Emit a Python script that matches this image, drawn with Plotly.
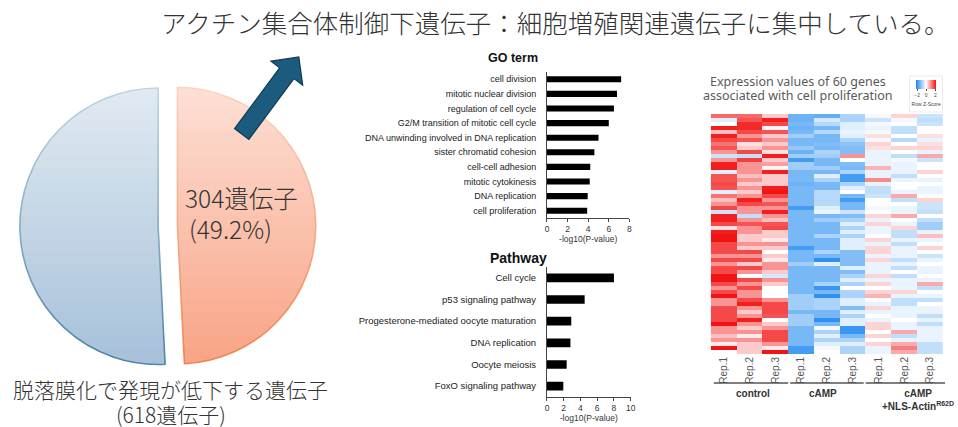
import plotly.graph_objects as go

W, H = 958, 427

# ---------------- data ----------------
pie_labels = ["アクチン集合体制御下遺伝子", "その他"]
pie_values = [304, 314]

go_terms = ["cell division", "mitotic nuclear division", "regulation of cell cycle",
            "G2/M transition of mitotic cell cycle",
            "DNA unwinding involved in DNA replication", "sister chromatid cohesion",
            "cell-cell adhesion", "mitotic cytokinesis", "DNA replication",
            "cell proliferation"]
go_values = [7.2, 6.8, 6.5, 6.0, 5.0, 4.6, 4.2, 4.15, 3.95, 3.9]

pathway_terms = ["Cell cycle", "p53 signaling pathway",
                 "Progesterone-mediated oocyte maturation", "DNA replication",
                 "Oocyte meiosis", "FoxO signaling pathway"]
pathway_values = [8.0, 4.5, 2.9, 2.8, 2.35, 1.95]

hm_col_labels = ["Rep.1", "Rep.2", "Rep.3"] * 3
hm_groups = ["control", "cAMP", "cAMP<br>+NLS-Actin<sup>R62D</sup>"]

ctrl_rep1 = [1.4, -0.3, 0.0, 2.1, 0.6, 2.1, 1.7, 1.3, 1.6, 1.0,
             -0.5, 1.0, 2.1, 2.1, -0.3, 1.6, 1.6, 1.7, 1.6, -0.3,
             1.3, 0.6, 1.0, 1.7, -0.5, 2.1, 2.1, 1.7, 0.3, 2.1,
             2.2, 2.2, 1.7, 1.7, 1.7, 1.0, 1.7, 1.0, 1.7, 1.7,
             2.2, 2.2, 1.7, 1.0, 1.7, 2.2, 1.0, 1.0, 1.7, 1.7,
             1.7, 1.7, 2.2, 1.0, 1.0, 0.6, 1.0, 0.2, 2.2, 0.0]
ctrl_rep2 = [1.4, 1.6, 2.0, 2.0, 1.7, 1.0, 1.6, 0.3, 0.5, 1.7,
             -0.6, 1.8, 1.0, 1.0, 1.0, 0.6, 1.0, 0.5, 1.0, 0.5,
             1.0, 2.1, 1.7, 1.0, 1.0, -0.6, 1.0, 1.6, 1.0, 1.0,
             0.5, 0.5, 1.0, 0.5, 1.7, 1.0, 1.7, 0.5, 1.7, 1.0,
             0.0, 1.7, 1.0, 1.7, 1.0, 1.0, 1.7, 2.1, 1.0, 0.5,
             1.0, 2.1, 1.0, 0.5, 1.0, 0.2, 1.0, 0.5, 0.5, 0.5]
ctrl_rep3 = [0.5, 2.1, 1.7, 0.1, 1.6, 0.5, 1.0, 0.5, 1.0, 0.3,
             2.1, 0.5, 0.9, 0.1, 2.1, 0.5, 0.5, 0.5, 2.1, 2.2,
             1.7, 1.0, 1.6, 1.0, 2.1, 1.0, 0.6, 1.6, 1.7, 0.5,
             0.5, 0.2, 1.0, 0.5, 0.0, 0.5, 0.2, 1.0, 1.0, 0.5,
             -0.4, 1.0, 0.5, 0.0, 0.0, 0.0, 1.0, 1.7, 1.7, 1.7,
             1.6, 0.0, 0.5, 1.0, 1.7, 1.7, 1.7, 1.0, 0.2, 2.2]
camp_rep1 = [-1.4, -1.4, -1.3, -1.4, -1.3, -0.9, -1.3, -1.3, -1.0, -1.4,
             -0.9, -1.8, -0.9, -0.9, -1.3, -1.3, -1.3, -1.4, -1.3, -1.3,
             -1.3, -1.3, -1.3, -1.8, -1.3, -1.3, -1.3, -1.3, -1.3, -1.3,
             -1.3, -1.3, -1.3, -1.8, -1.3, -1.3, -1.3, -0.9, -1.3, -1.3,
             -1.3, -1.3, -1.3, -1.3, -1.3, -0.9, -0.9, -0.9, -0.9, -1.3,
             -0.9, -0.9, -0.9, -1.3, -1.3, -1.3, -1.3, -1.3, -1.8, -1.8]
camp_rep2 = [-1.5, -0.4, -0.7, -1.3, -0.7, -1.3, -1.3, -1.2, -1.3, -0.8,
             -0.9, -1.3, -1.3, -0.9, -1.3, -0.3, -0.8, -1.3, -1.3, -0.7,
             -0.7, -0.7, -0.7, -0.3, -0.2, -1.3, -0.9, -1.3, -1.3, -1.3,
             -0.8, -1.3, -1.3, -1.3, -0.8, -1.3, -2.0, -0.3, -1.3, -1.3,
             -1.3, -1.3, -0.8, -1.9, -1.3, -2.0, -0.8, -0.8, -0.8, -1.3,
             -1.3, -2.0, -1.3, -0.1, -0.8, -0.3, -0.8, -0.3, -0.1, 0.0]
camp_rep3 = [-0.8, -0.8, -0.3, -0.3, -0.2, -0.3, -0.8, -1.1, -1.2, -1.2,
             1.0, 0.0, -1.2, -1.3, -0.8, -1.8, -1.8, -0.8, -0.3, 0.0,
             -1.3, -1.8, -1.3, -1.3, -0.5, -1.2, -0.8, -0.3, -0.8, -0.3,
             -0.8, -0.3, -0.3, -0.3, -1.2, -1.2, -1.2, -1.2, -0.3, -1.2,
             -0.8, -0.3, -0.8, 0.0, -0.8, -0.8, -0.3, -0.3, -1.2, -0.3,
             -0.8, -0.3, -0.3, -1.9, -1.9, -1.3, -0.8, -0.3, -0.8, -0.8]
nls_rep1 = [-0.1, -0.5, -0.1, -0.2, -0.1, 0.3, -0.1, 0.4, 0.3, -0.2,
            -0.2, -0.2, -0.2, 0.7, -0.2, -0.2, 1.1, -0.2, -0.6, -0.6,
            -0.5, 0.0, 0.0, -0.1, 0.0, 0.4, -0.2, 0.4, -0.2, -0.2,
            0.0, 0.4, -0.2, 0.4, 0.4, -0.2, 0.4, -0.2, -0.2, -0.2,
            0.4, -0.2, 0.4, 0.0, 0.4, 0.7, 0.0, -0.2, 0.4, -0.2,
            0.0, -0.2, 0.4, 0.4, 0.0, 0.4, 0.0, 0.4, -0.2, -0.2]
nls_rep2 = [0.4, -0.1, 0.0, -0.6, -0.6, 0.0, -0.7, 0.0, 0.4, 0.0,
            -0.6, -0.1, -0.2, -0.2, -0.2, -0.6, -0.2, 0.0, 0.0, -0.2,
            0.8, -0.6, 0.0, -0.2, -0.2, 0.8, 0.0, -0.2, 0.4, -0.6,
            -0.6, -0.2, -0.6, -0.2, -0.2, -0.2, -0.6, -0.2, -0.6, 0.0,
            -0.6, -0.2, -0.2, -0.2, 0.4, -0.2, -0.6, -0.6, -0.2, -0.2,
            -0.2, 0.0, -0.2, -0.2, 0.8, -0.6, -0.2, 0.8, 1.2, 0.8]
nls_rep3 = [-0.5, -0.6, -0.5, 0.0, 0.0, 0.3, -0.2, 0.3, 0.4, -0.2,
            0.8, -0.5, 0.0, 0.0, 0.4, 0.0, -0.2, 0.0, -0.2, -0.2,
            0.0, 0.4, -0.5, -0.5, -0.6, 0.0, -0.6, -0.9, -0.9, -0.2,
            0.6, -0.2, 0.0, 0.4, 0.0, -0.5, -0.2, 0.0, -0.2, -0.2,
            0.0, -0.2, 0.8, -0.6, 0.0, -0.2, -0.6, 0.0, -0.2, -0.2,
            -0.6, -0.2, -0.6, -0.2, -0.2, -0.2, -0.2, -0.6, -0.6, -0.6]

hm_columns = [ctrl_rep1, ctrl_rep2, ctrl_rep3, camp_rep1, camp_rep2, camp_rep3,
              nls_rep1, nls_rep2, nls_rep3]

# ---------------- helpers ----------------
def px(x):
    return x / W


def py(y):
    return 1 - y / H


JP = "Noto Sans CJK JP"
AR = "Liberation Sans, Arial, sans-serif"

fig = go.Figure()

# ---------------- pie ----------------
fig.add_trace(go.Pie(
    values=pie_values, labels=pie_labels, sort=False, direction="clockwise",
    rotation=0, pull=[0.07, 0.07],
    marker=dict(colors=["#f9a587", "#a8c2da"],
                line=dict(color=["#ee8552", "#4f86a6"], width=1.6)),
    textinfo="none", hoverinfo="none", showlegend=False,
    domain=dict(x=[px(18), px(316)], y=[py(375), py(77)]),
))

# ---------------- GO term bars ----------------
fig.add_trace(go.Bar(
    x=go_values, y=go_terms, orientation="h", width=0.42,
    marker=dict(color="#000000", line=dict(width=0)),
    xaxis="x", yaxis="y", showlegend=False, hoverinfo="none",
))

# ---------------- Pathway bars ----------------
fig.add_trace(go.Bar(
    x=pathway_values, y=pathway_terms, orientation="h", width=0.4,
    marker=dict(color="#000000", line=dict(width=0)),
    xaxis="x2", yaxis="y2", showlegend=False, hoverinfo="none",
))

# ---------------- heatmap ----------------
z_rows = [list(r) for r in zip(*hm_columns)]
fig.add_trace(go.Heatmap(
    z=z_rows, x=list(range(len(hm_columns))), y=list(range(len(z_rows))),
    xaxis="x3", yaxis="y3", zmin=-2.2, zmax=2.2,
    colorscale=[[0, "#1a86f0"], [0.5, "#ffffff"], [1, "#f21414"]],
    hoverinfo="none",
    colorbar=dict(
        orientation="h", x=px(931), xanchor="center", y=py(76), yanchor="top",
        lenmode="pixels", len=32, thickness=9, outlinewidth=0,
        tickvals=[-2, 0, 2],
        ticks="outside", ticklen=2, tickcolor="#555",
        tickfont=dict(size=5, color="#444", family=AR),
        title=dict(text="Row Z-Score", side="bottom",
                   font=dict(size=5, color="#444", family=AR)),
        bordercolor="#ececec", borderwidth=1, xpad=6, ypad=4,
        bgcolor="#ffffff",
    ),
))

axis_font = dict(size=8.5, color="#333", family=AR)
line_col = "#444"

layout = dict(
    width=W, height=H, margin=dict(l=0, r=0, t=0, b=0),
    paper_bgcolor="#ffffff", plot_bgcolor="#ffffff",
    font=dict(family=AR, color="#222"),
    showlegend=False,
    xaxis=dict(domain=[px(549), px(632)], range=[0, 8], dtick=2, anchor="y",
               ticks="outside", ticklen=3, tickcolor=line_col, showline=True,
               linecolor=line_col, linewidth=1, showgrid=False, zeroline=False,
               tickfont=axis_font,
               title=dict(text="-log10(P-value)", font=axis_font, standoff=1)),
    yaxis=dict(domain=[py(218), py(72)], anchor="x", autorange="reversed",
               showline=True, linecolor=line_col, linewidth=1, ticks="",
               showgrid=False, zeroline=False, ticklabelstandoff=8,
               tickfont=dict(size=9, color="#222", family=AR)),
    xaxis2=dict(domain=[px(549), px(633.3)], range=[0, 10], dtick=2, anchor="y2",
                ticks="outside", ticklen=3, tickcolor=line_col, showline=True,
                linecolor=line_col, linewidth=1, showgrid=False, zeroline=False,
                tickfont=axis_font,
                title=dict(text="-log10(P-value)", font=axis_font, standoff=1)),
    yaxis2=dict(domain=[py(397), py(267)], anchor="x2", autorange="reversed",
                showline=True, linecolor=line_col, linewidth=1, ticks="",
                showgrid=False, zeroline=False, ticklabelstandoff=8,
                tickfont=dict(size=9.5, color="#222", family=AR)),
    xaxis3=dict(domain=[px(714), px(948)], range=[-0.5, len(hm_columns) - 0.5],
                anchor="y3", tickvals=list(range(len(hm_columns))),
                ticktext=hm_col_labels, tickangle=-90, ticks="",
                showline=False, showgrid=False, zeroline=False,
                tickfont=dict(size=10, color="#555", family=AR)),
    yaxis3=dict(domain=[py(354), py(114)], anchor="x3", autorange="reversed",
                showticklabels=False, ticks="", showline=False, showgrid=False,
                zeroline=False),
)
fig.update_layout(**layout)

# ---------------- decorative shapes ----------------
shapes = []
# vertical gradient on the pie: white veil that fades toward the bottom
top, bottom, step = 84, 368, 12
n = (bottom - top) // step
for i in range(n):
    y0 = top + i * step
    op = 0.66 * (1 - (i + 0.5) / n)
    shapes.append(dict(type="rect", xref="paper", yref="paper",
                       x0=px(4), x1=px(330), y0=py(y0 + step), y1=py(y0),
                       fillcolor="#ffffff", opacity=op, line=dict(width=0),
                       layer="above"))

# block arrow
arrow_pts = [(234.3, 128.6), (279.7, 67.8), (270.9, 61.2), (299.0, 57.0),
             (302.9, 85.2), (294.1, 78.6), (248.7, 139.4)]
path = "M " + " L ".join(f"{px(x):.5f},{py(y):.5f}" for x, y in arrow_pts) + " Z"
shapes.append(dict(type="path", xref="paper", yref="paper", path=path,
                   fillcolor="#1b5b7d", line=dict(color="#0f3a52", width=1.2),
                   layer="above"))

# heatmap group underlines
for x0, x1 in [(717, 792), (794, 868), (870, 950)]:
    shapes.append(dict(type="line", xref="paper", yref="paper",
                       x0=px(x0), x1=px(x1), y0=py(383), y1=py(383),
                       line=dict(color="#555", width=1.5)))
fig.update_layout(shapes=shapes)

# ---------------- text ----------------
ann = []


def text(x, y, s, size, color="#333", family=JP, xanchor="center", weight=None):
    f = dict(size=size, color=color, family=family)
    if weight is not None:
        f["weight"] = weight
    ann.append(dict(x=px(x), y=py(y), xref="paper", yref="paper", text=s,
                    showarrow=False, xanchor=xanchor, yanchor="middle", font=f))


text(557, 21, "アクチン集合体制御下遺伝子：細胞増殖関連遺伝子に集中している。", 25.5,
     color="#333", weight=300)

total = sum(pie_values)
pct = 100 * pie_values[0] / total
text(182, 197, f"{pie_values[0]}遺伝子", 24.5, color="#333", xanchor="left", weight=300)
text(186, 228, f"({pct:.1f}%)", 24.5, color="#333", xanchor="left", weight=300)
text(170, 389, "脱落膜化で発現が低下する遺伝子", 21, color="#333", weight=300)
text(170, 414, f"({total}遺伝子)", 21, color="#333", weight=300)

text(515, 58, "<b>GO term</b>", 12.5, color="#111", family=AR)
text(520, 258, "<b>Pathway</b>", 14, color="#111", family=AR)

text(802, 81, "Expression values of 60 genes", 12.5, color="#5a5a5a",
     family="Noto Sans")
text(802, 95, "associated with cell proliferation", 12.5, color="#5a5a5a",
     family="Noto Sans")

text(757, 393, f"<b>{hm_groups[0]}</b>", 10, color="#333", family=AR)
text(827, 393, f"<b>{hm_groups[1]}</b>", 10, color="#333", family=AR)
ann.append(dict(x=px(923), y=py(386), xref="paper", yref="paper",
                text=f"<b>{hm_groups[2]}</b>", showarrow=False, xanchor="center",
                yanchor="top", font=dict(size=10, color="#333", family=AR)))

fig.update_layout(annotations=ann)

fig.write_html("out.html", config={"displayModeBar": False},
               post_script="document.body.style.margin='0';"
                           "document.body.style.overflow='hidden';")
